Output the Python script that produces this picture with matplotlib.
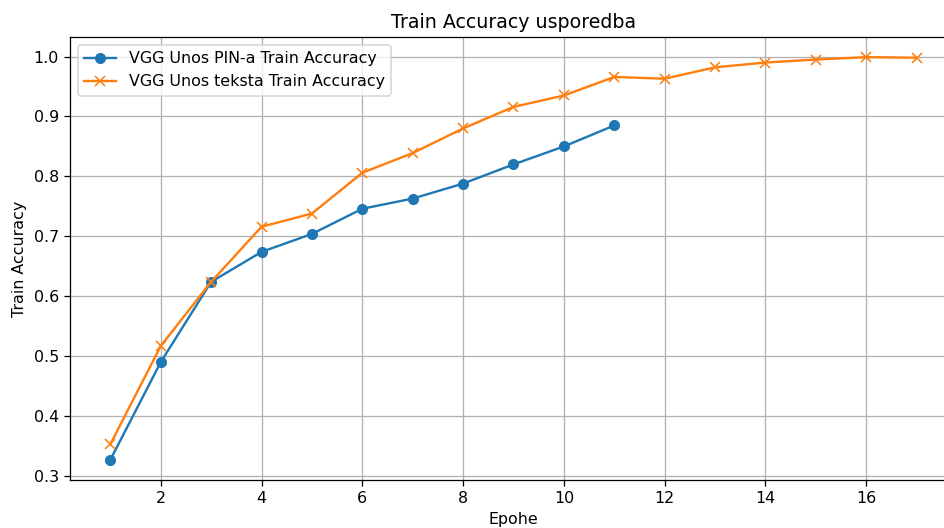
import matplotlib
matplotlib.use("Agg")
import matplotlib.pyplot as plt

epochs_pin = list(range(1, 12))
acc_pin = [0.327, 0.490, 0.624, 0.674, 0.704, 0.746, 0.763, 0.788, 0.820, 0.850, 0.885]
epochs_txt = list(range(1, 18))
acc_txt = [0.353, 0.517, 0.624, 0.716, 0.738, 0.806, 0.839, 0.880, 0.916, 0.935, 0.966,
           0.963, 0.982, 0.990, 0.995, 0.999, 0.998]

DPI = 114
fig = plt.figure(figsize=(945/DPI, 528/DPI), dpi=DPI)
ax = fig.add_axes([70/945, 48/528, 887/945, 443/528])
ax.plot(epochs_pin, acc_pin, marker='o', label='VGG Unos PIN-a Train Accuracy')
ax.plot(epochs_txt, acc_txt, marker='x', label='VGG Unos teksta Train Accuracy')
ax.set_title('Train Accuracy usporedba')
ax.set_xlabel('Epohe')
ax.set_ylabel('Train Accuracy')
ax.grid(True)
ax.spines['right'].set_visible(False)
ax.legend(loc='upper left')
fig.savefig('out.png', dpi=DPI)
